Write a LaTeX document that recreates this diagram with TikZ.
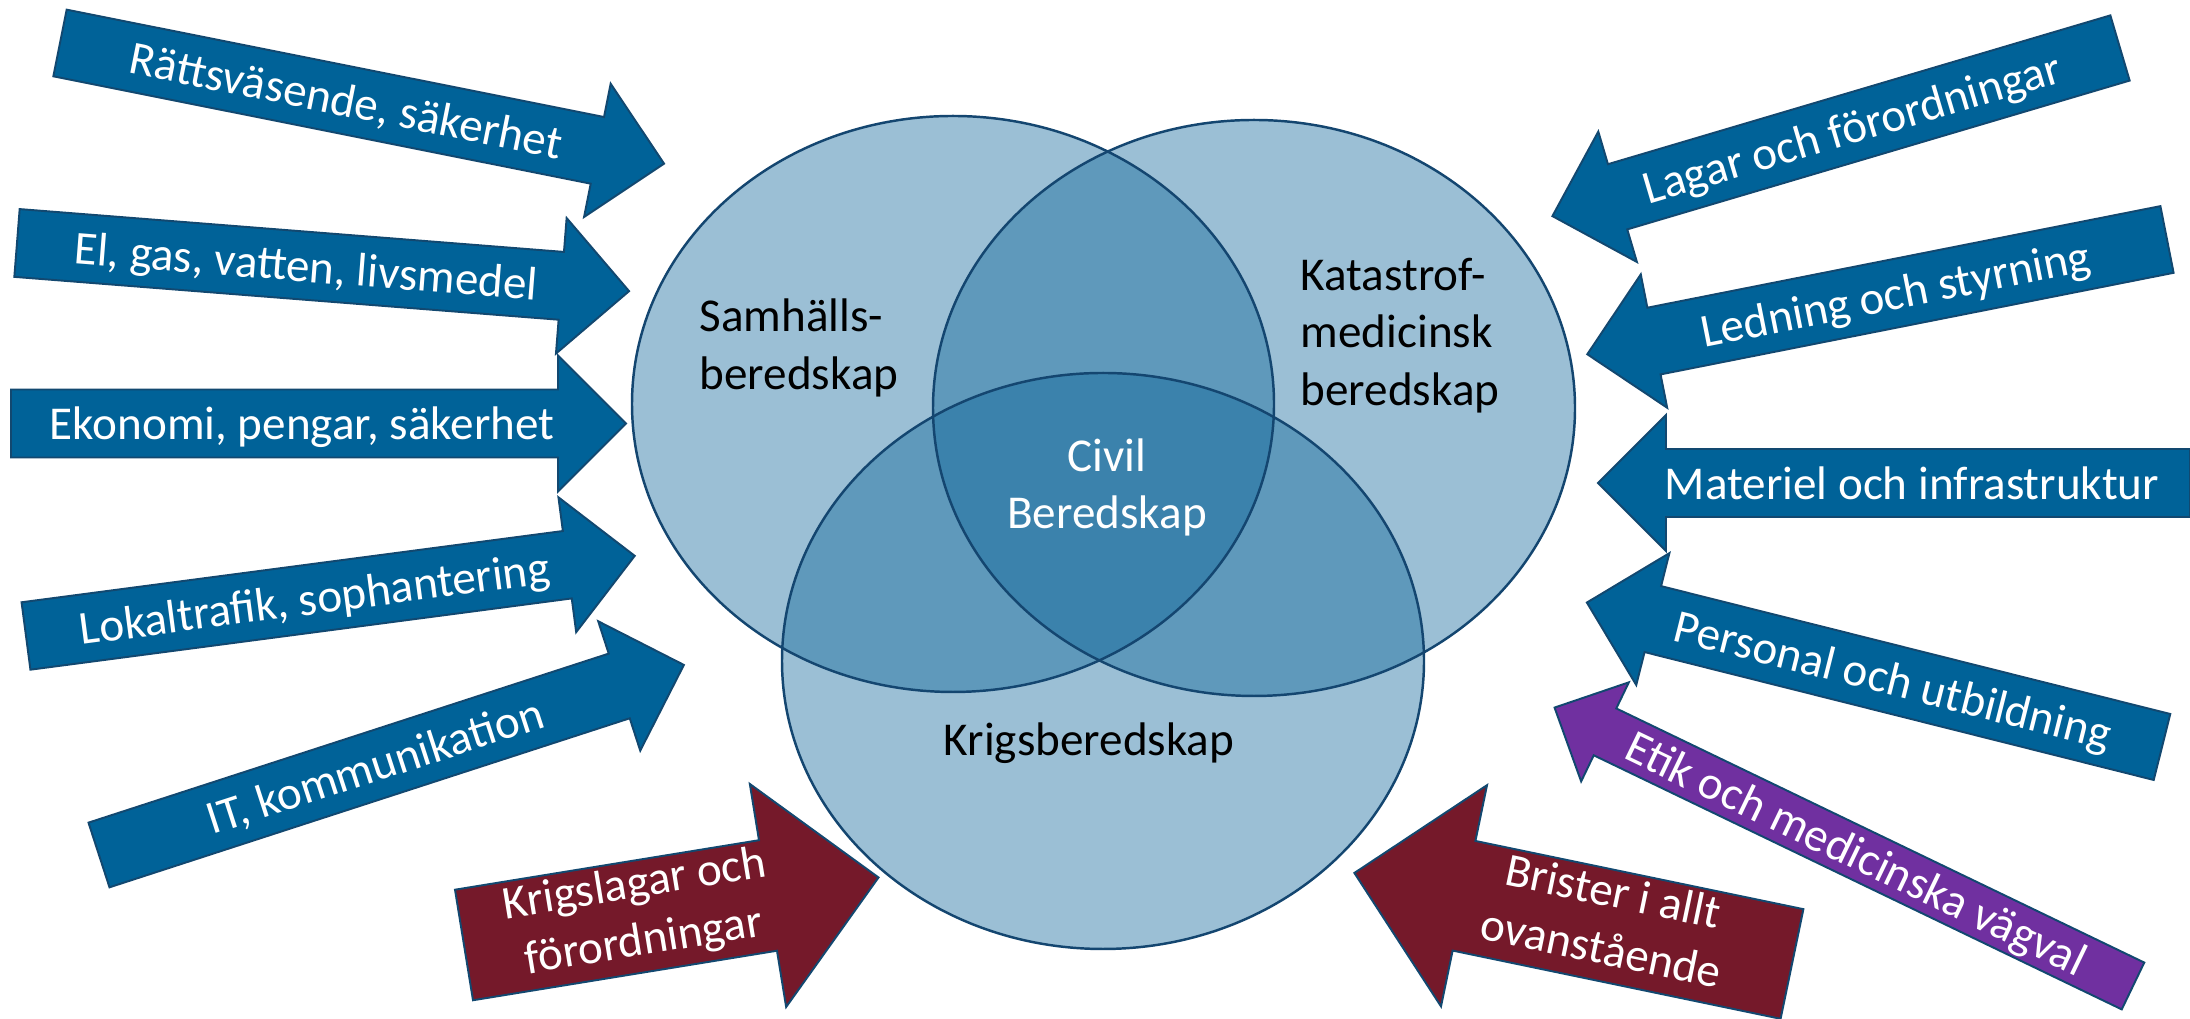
\documentclass[tikz,border=0pt]{standalone}
\usepackage{fontspec}
\setmainfont{Carlito}

\definecolor{arrblue}{RGB}{0,98,152}
\definecolor{arrred}{RGB}{117,25,42}
\definecolor{arrpurple}{RGB}{112,48,160}
\definecolor{arrline}{RGB}{18,72,112}
\definecolor{vennbase}{RGB}{5,97,150}
\definecolor{vennline}{RGB}{20,70,112}

\newcommand{\cstrut}{\rule[-0.269em]{0pt}{1.221em}}
\newcommand{\blockarrow}[8]{%
  \path[#1, shift={(#3)}, rotate=#4]
    (0,-\arrsw) -- ({#5-\arrhl},-\arrsw) -- ({#5-\arrhl},-\arrhw) -- (#5,0)
    -- ({#5-\arrhl},\arrhw) -- ({#5-\arrhl},\arrsw) -- (0,\arrsw) -- cycle;
  \node[arrlab, rotate=#7] (#2) at ([shift={(#4:#6)}]#3) {#8};
}

\tikzset{
  arr/.style={draw=arrline, line width=0.55pt},
  bluearr/.style={arr, fill=arrblue, /utils/exec={\def\arrsw{34}\def\arrhw{68}\def\arrhl{68}}},
  redarr/.style={arr, fill=arrred, /utils/exec={\def\arrsw{56}\def\arrhw{113}\def\arrhl{112}}},
  purparr/.style={arr, fill=arrpurple, /utils/exec={\def\arrsw{26}\def\arrhw{55}\def\arrhl{56}}},
  arrlab/.style={text=white, align=center, inner sep=0pt,
    execute at begin node=\cstrut, execute at end node=\cstrut},
  venn/.style={fill=vennbase, fill opacity=0.4},
  vennrim/.style={draw=vennline, line width=0.7pt},
  vlab/.style={inner sep=0pt, align=left,
    execute at begin node=\cstrut, execute at end node=\cstrut},
}

\begin{document}
\begin{tikzpicture}[x=0.01cm, y=0.01cm,
    every node/.style={font=\fontsize{13.4}{16.4}\selectfont}]
  \path[use as bounding box, fill=white] (0,0) rectangle (2190,1019);

  \fill[venn] (953,615) ellipse [x radius=321, y radius=288];
  \fill[venn] (1254,611) ellipse [x radius=321, y radius=288];
  \fill[venn] (1103,358) ellipse [x radius=321, y radius=288];
  \draw[vennrim] (953,615) ellipse [x radius=321, y radius=288];
  \draw[vennrim] (1254,611) ellipse [x radius=321, y radius=288];
  \draw[vennrim] (1103,358) ellipse [x radius=321, y radius=288];

  \node[vlab, anchor=west] (samh) at (699,668.75) {Samhälls-\\beredskap};
  \node[vlab, anchor=west] (katastrof) at (1300,680.8) {Katastrof-\\medicinsk\\beredskap};
  \node[vlab, align=center, text=white] (civil) at (1107,529) {Civil\\Beredskap};
  \node[vlab] (krigsb) at (1089,280) {Krigsberedskap};

  \blockarrow{bluearr}{rattsv}{60,976}{-11.3}{616}{292}{-11.3}{Rättsväsende, säkerhet}
  \blockarrow{bluearr}{el}{17,776}{-4.5}{614}{290}{-4.5}{El, gas, vatten, livsmedel}
  \blockarrow{bluearr}{ekonomi}{11,595.5}{0}{615}{291}{0}{Ekonomi, pengar, säkerhet}
  \blockarrow{bluearr}{lokal}{26,383}{7.5}{614}{291}{7.5}{Lokaltrafik, sophantering}
  \blockarrow{bluearr}{it}{99,164}{18}{615}{290}{18}{IT, kommunikation}
  \blockarrow{redarr}{krigslag}{464,74}{9.25}{420}{178}{9.25}{Krigslagar och\\förordningar}

  \blockarrow{bluearr}{lagar}{2120,971}{196.5}{592}{280}{16.5}{Lagar och förordningar}
  \blockarrow{bluearr}{ledning}{2167,779.5}{191.2}{591}{277}{11.2}{Ledning och styrning}
  \blockarrow{bluearr}{materiel}{2190,536}{180}{592}{278}{0}{Materiel och infrastruktur}
  \blockarrow{bluearr}{personal}{2162,272}{165.9}{593}{277}{-14.1}{Personal och utbildning}
  \blockarrow{purparr}{etik}{2133,33}{154.3}{642}{307}{-25.7}{Etik och medicinska vägval}
  \blockarrow{redarr}{brister}{1792,55}{168.25}{447}{190}{-11.75}{Brister i allt\\ovanstående}
\end{tikzpicture}
\end{document}
